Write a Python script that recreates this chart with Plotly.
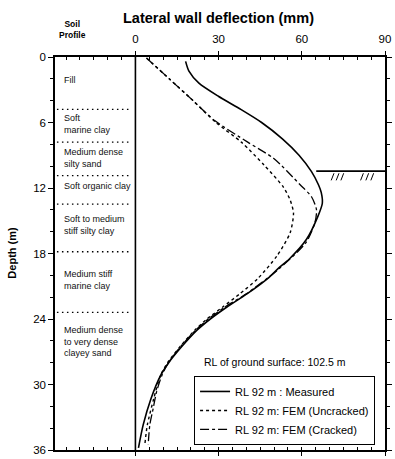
import plotly.graph_objects as go

# ---------------- data ----------------
measured_depth = [0.4, 1.3, 2.4, 3.6, 4.8, 6.0, 7.5, 9.0, 10.5, 11.7, 12.4, 13.4, 14.6, 16.7, 18.5, 19.3, 20.2, 21.7, 22.9, 24.0, 25.0, 26.5, 28.0, 29.2, 31.3, 33.7, 35.8]
measured_defl = [18.1, 19.3, 22.9, 29.9, 38.0, 45.5, 53.0, 59.0, 63.5, 66.0, 67.0, 67.4, 65.8, 61.7, 55.5, 51.8, 48.1, 40.2, 33.0, 27.0, 22.3, 16.8, 12.0, 9.0, 5.6, 2.8, 1.1]

uncracked_depth = [0.1, 2.0, 4.0, 6.0, 7.8, 9.9, 11.9, 13.1, 14.3, 16.1, 18.2, 20.3, 21.7, 22.9, 24.0, 25.0, 26.5, 28.0, 29.2, 31.3, 33.7, 35.5]
uncracked_defl = [4.0, 12.2, 20.8, 29.0, 38.2, 46.4, 53.3, 55.8, 57.0, 55.8, 51.1, 44.1, 37.6, 31.5, 25.8, 21.5, 16.2, 11.6, 9.0, 6.6, 4.3, 3.4]

cracked_depth = [0.1, 2.0, 4.0, 5.85, 7.8, 9.3, 11.7, 12.8, 14.0, 15.2, 17.0, 19.4, 21.7, 22.9, 24.0, 25.0, 26.5, 28.0, 29.2, 30.7, 32.2, 33.7, 35.5]
cracked_defl = [4.0, 12.2, 20.8, 28.7, 40.5, 49.9, 59.4, 63.5, 65.3, 64.7, 61.5, 51.8, 40.0, 32.3, 26.3, 21.8, 16.4, 11.9, 9.5, 7.6, 6.4, 5.2, 4.6]

layer_boundaries = [4.8, 7.8, 10.87, 13.47, 17.84, 23.39]
layer_labels = ["Fill", "Soft<br>marine clay", "Medium dense<br>silty sand", "Soft organic clay",
                "Soft to medium<br>stiff silty clay", "Medium stiff<br>marine clay",
                "Medium dense<br>to very dense<br>clayey sand"]
layer_label_depth = [2.1, 6.15, 9.27, 11.84, 15.37, 20.4, 26.04]

hard_stratum_depth = 10.45
hatch_x = [70.6, 72.4, 74.1, 81.2, 83.1, 84.9]

series_names = ["RL 92 m : Measured", "RL 92 m: FEM (Uncracked)", "RL 92 m: FEM (Cracked)"]
x_ticks = [0, 30, 60, 90]
y_ticks = [0, 6, 12, 18, 24, 30, 36]

FONT = "Liberation Sans, Arial, sans-serif"

fig = go.Figure()

fig.add_trace(go.Scatter(x=measured_defl, y=measured_depth, mode="lines", name=series_names[0],
                         line=dict(color="black", width=1.6, shape="spline", smoothing=0.7)))
fig.add_trace(go.Scatter(x=uncracked_defl, y=uncracked_depth, mode="lines", name=series_names[1],
                         line=dict(color="black", width=1.4, dash="dot", shape="spline", smoothing=0.7)))
fig.add_trace(go.Scatter(x=cracked_defl, y=cracked_depth, mode="lines", name=series_names[2],
                         line=dict(color="black", width=1.3, dash="dashdot", shape="spline", smoothing=0.7)))

shapes = []
# wall line at x = 0
shapes.append(dict(type="line", xref="x", yref="y", x0=0, x1=0, y0=0, y1=36,
                   line=dict(color="black", width=1.6)))
# soil layer boundaries
for d in layer_boundaries:
    shapes.append(dict(type="line", xref="x", yref="y", x0=-28.3, x1=-2.5, y0=d, y1=d,
                       line=dict(color="black", width=1.3, dash="1.5px,3.5px")))
# hard stratum
shapes.append(dict(type="line", xref="x", yref="y", x0=65.2, x1=90, y0=hard_stratum_depth, y1=hard_stratum_depth,
                   line=dict(color="black", width=1.6)))
for hx in hatch_x:
    shapes.append(dict(type="line", xref="x", yref="y", x0=hx, x1=hx + 1.0,
                       y0=hard_stratum_depth + 0.85, y1=hard_stratum_depth + 0.2,
                       line=dict(color="black", width=1)))

annotations = []
for txt, d in zip(layer_labels, layer_label_depth):
    annotations.append(dict(x=-26.3, y=d, xref="x", yref="y", text=txt, showarrow=False,
                            xanchor="left", yanchor="middle", align="left",
                            font=dict(family=FONT, size=9, color="#111")))
annotations.append(dict(x=0.4955, y=1.10, xref="paper", yref="paper",
                        text="<b>Lateral wall deflection (mm)</b>", showarrow=False,
                        xanchor="center", yanchor="middle",
                        font=dict(family=FONT, size=14.5, color="black")))
annotations.append(dict(x=0.0534, y=1.071, xref="paper", yref="paper",
                        text="<b>Soil<br>Profile</b>", showarrow=False,
                        xanchor="center", yanchor="middle",
                        font=dict(family=FONT, size=8.5, color="black")))
annotations.append(dict(x=-0.133, y=0.5025, xref="paper", yref="paper",
                        text="<b>Depth (m)</b>", showarrow=False, textangle=-90,
                        xanchor="center", yanchor="middle",
                        font=dict(family=FONT, size=11, color="black")))
annotations.append(dict(x=50.5, y=27.9, xref="x", yref="y",
                        text="RL of ground surface: 102.5 m", showarrow=False,
                        xanchor="center", yanchor="middle",
                        font=dict(family=FONT, size=10.5, color="black")))

fig.update_layout(
    width=395, height=459,
    margin=dict(l=55, r=3, t=57, b=4),
    paper_bgcolor="white", plot_bgcolor="white",
    font=dict(family=FONT, size=11, color="black"),
    shapes=shapes, annotations=annotations,
    showlegend=True,
    legend=dict(x=0.4214, y=0.1884, xanchor="left", yanchor="top",
                bgcolor="white", bordercolor="black", borderwidth=1,
                font=dict(family=FONT, size=11, color="black"),
                itemwidth=30, tracegroupgap=0),
    xaxis=dict(range=[-29, 90], side="top", tickmode="array", tickvals=x_ticks,
               showgrid=False, zeroline=False, showline=True, linecolor="black", linewidth=1.5,
               mirror="allticks", ticks="outside", ticklen=4, tickwidth=1.2, tickcolor="black",
               ticklabelstandoff=4,
               minor=dict(dtick=5, tick0=0, ticks="inside", ticklen=3, tickcolor="black", tickwidth=1),
               tickfont=dict(family=FONT, size=11.5, color="black")),
    yaxis=dict(range=[36, 0], tickmode="array", tickvals=y_ticks,
               showgrid=False, zeroline=False, showline=True, linecolor="black", linewidth=1.5,
               mirror="allticks", ticks="outside", ticklen=5, tickwidth=1.2, tickcolor="black",
               minor=dict(dtick=2, tick0=0, ticks="outside", ticklen=3, tickcolor="black", tickwidth=1),
               tickfont=dict(family=FONT, size=11.5, color="black")),
)

fig.write_html("out.html")
